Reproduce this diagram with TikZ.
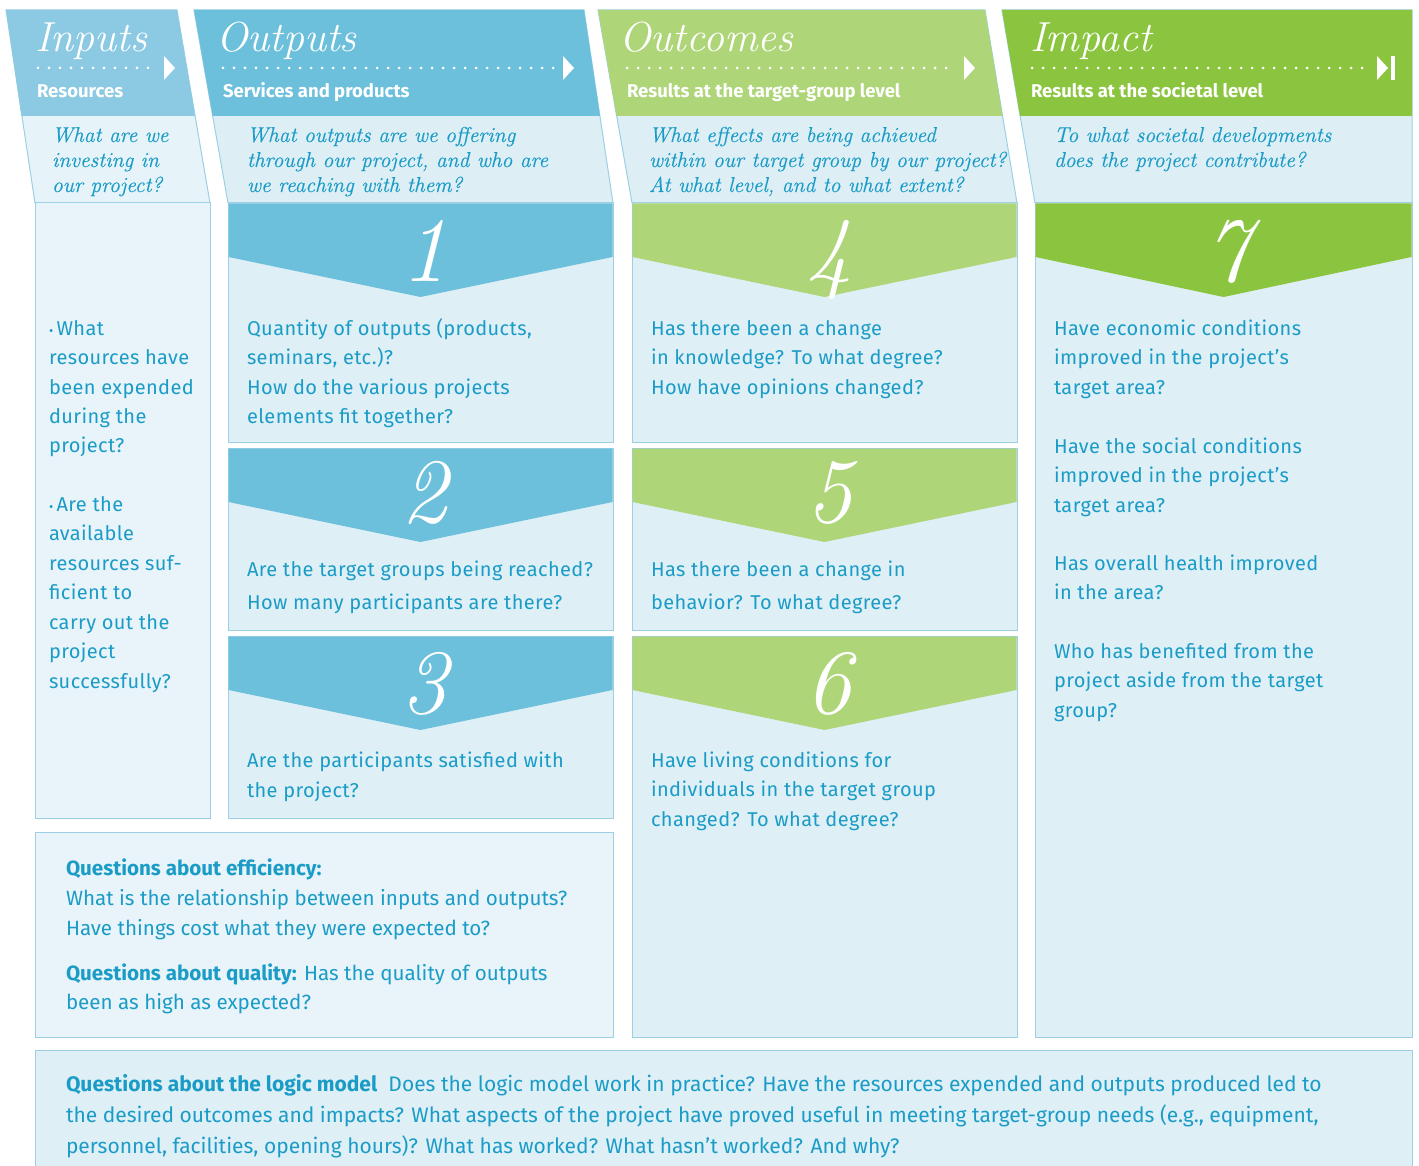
\documentclass[tikz,border=0pt]{standalone}
\usepackage{fontspec}
\newfontfamily\bodyfont[LetterSpace=2]{Fira Sans}
\newfontfamily\plainfont{Fira Sans}
\newfontfamily\serifq[FakeBold=0.4]{Latin Modern Roman}
\definecolor{tblue}{HTML}{1A9CC7}
\definecolor{hin}{HTML}{8BCAE2}
\definecolor{hout}{HTML}{6DC0DC}
\definecolor{hoc}{HTML}{AED578}
\definecolor{him}{HTML}{8BC53F}
\definecolor{qlight}{HTML}{E6F3F9}
\definecolor{qfill}{HTML}{DDEEF5}
\definecolor{bodyc}{HTML}{DFEFF6}
\definecolor{bodyl}{HTML}{E8F4F9}
\definecolor{bordc}{HTML}{9DD0E4}
\newcommand\ptxt[2]{\parbox[t]{1400pt}{#1\raggedright #2}}
\newcommand\bfnt{\bodyfont\fontsize{20}{29.5}\selectfont}
\newcommand\qfnt{\serifq\fontsize{21.5}{25}\selectfont\itshape}
\begin{document}
\begin{tikzpicture}[x=1pt,y=-1pt,
  every node/.style={inner sep=0pt, outer sep=0pt},
  ttl/.style={anchor=base west, text=white, font=\fontsize{42}{42}\selectfont\itshape},
  subt/.style={anchor=base west, text=white, font=\plainfont\bfseries\fontsize{18.5}{20}\selectfont},
  txt/.style={anchor=base west, text=tblue},
  num/.style={anchor=base, text=white, font=\fontsize{92}{92}\selectfont\itshape},
  bx/.style={fill=bodyc, draw=bordc, line width=1pt},
  dots/.style={white, line width=3pt, line cap=round, dash pattern=on 0pt off 11pt},
  qa/.style={draw=bordc, line width=1pt}
]
\useasboundingbox (0,0) rectangle (1419,1166);
\fill[white] (0,0) rectangle (1419,1166);

% ---------- header parallelograms ----------
% Inputs
\filldraw[qa, fill=qlight] (6,10) -- (177,10) -- (210,203) -- (35,203) -- cycle;
\fill[hin] (6,10) -- (177,10) -- (195,116) -- (21.5,116) -- cycle;
% Outputs
\filldraw[qa, fill=qfill] (194,10) -- (584,10) -- (613,203) -- (228,203) -- cycle;
\fill[hout] (194,10) -- (584,10) -- (600,116) -- (212.7,116) -- cycle;
% Outcomes
\filldraw[qa, fill=qfill] (598,10) -- (985,10) -- (1017,203) -- (632,203) -- cycle;
\fill[hoc] (598,10) -- (985,10) -- (1002.6,116) -- (616.5,116) -- cycle;
% Impact
\filldraw[qa, fill=qfill] (1002,10) -- (1412,10) -- (1412,203) -- (1035,203) -- cycle;
\fill[him] (1002,10) -- (1412,10) -- (1412,116) -- (1020,116) -- cycle;

% titles
\node[ttl] (tin) at (35,52) {Inputs};
\node[ttl] (tout) at (216,52) {Outputs};
\node[ttl] (toc) at (619,52) {Outcomes};
\node[ttl] (tim) at (1030,52) {Impact};
% dotted arrows
\draw[dots] (38,68) -- (158,68);
\fill[white] (164,56) -- (175,68) -- (164,80) -- cycle;
\draw[dots] (223,68) -- (557,68);
\fill[white] (563,56) -- (574,68) -- (563,80) -- cycle;
\draw[dots] (627,68) -- (957,68);
\fill[white] (964,56) -- (975,68) -- (964,80) -- cycle;
\draw[dots] (1032,68) -- (1371,68);
\fill[white] (1377,56) -- (1388,68) -- (1377,80) -- cycle;
\fill[white] (1391,56) rectangle (1395,80);
% subtitles
\node[subt] (sin) at (37,98) {Resources};
\node[subt] (sout) at (223,98) {Services and products};
\node[subt] (soc) at (627,98) {Results at the target-group level};
\node[subt] (sim) at (1031,98) {Results at the societal level};

% questions
\node[txt] (qin) at (52,142) {\ptxt{\qfnt}{What are we\\investing in\\our project?}};
\node[txt] (qout) at (247,142) {\ptxt{\qfnt}{What outputs are we offering\\through our project, and who are\\we reaching with them?}};
\node[txt] (qoc) at (649,142) {\ptxt{\qfnt}{What effects are being achieved\\within our target group by our project?\\At what level, and to what extent?}};
\node[txt] (qim) at (1054,142) {\ptxt{\qfnt}{To what societal developments\\does the project contribute?}};

% ---------- body boxes ----------
\filldraw[bx, fill=bodyl] (35,203) rectangle (210,818);
\foreach \t/\b/\c in {203/442/hout, 448/630/hout, 636/818/hout}{
  \filldraw[bx] (228,\t) rectangle (613,\b);
  \fill[\c] (228.5,\t+0.5) -- (612.5,\t+0.5) -- (612.5,\t+54) -- (420.5,\t+94) -- (228.5,\t+54) -- cycle;
}
\foreach \t/\b/\c in {203/442/hoc, 448/630/hoc, 636/1037/hoc}{
  \filldraw[bx] (632,\t) rectangle (1017,\b);
  \fill[\c] (632.5,\t+0.5) -- (1016.5,\t+0.5) -- (1016.5,\t+54) -- (824.5,\t+94) -- (632.5,\t+54) -- cycle;
}
\filldraw[bx] (1035,203) rectangle (1412,1037);
\fill[him] (1035.5,203.5) -- (1411.5,203.5) -- (1411.5,257) -- (1223.5,297) -- (1035.5,257) -- cycle;

% numbers
\node[num] (n1) at (424,282) {1};
\node[num] (n2) at (424,522) {2};
\node[num] (n3) at (424,713) {3};
\node[num] (n4) at (829,282) {4};
\node[num] (n5) at (829,522) {5};
\node[num] (n6) at (828,713) {6};
\node[num] (n7) at (1227,282) {7};

% body texts
\node[txt] (bin1) at (49,335) {\ptxt{\bfnt}{{\fontsize{13}{13}\selectfont\textbullet}\,What\\resources have\\been expended\\during the\\project?}};
\node[txt] (bin2) at (49,511) {\ptxt{\bfnt}{{\fontsize{13}{13}\selectfont\textbullet}\,Are the\\available\\resources suf-\\ficient to\\carry out the\\project\\successfully?}};
\node[txt] (b1) at (247,335) {\ptxt{\bfnt}{Quantity of outputs (products,\\seminars, etc.)?\\How do the various projects\\elements fit together?}};
\node[txt] (b2) at (247,576) {\ptxt{\bodyfont\fontsize{20}{33.5}\selectfont}{Are the target groups being reached?\\How many participants are there?}};
\node[txt] (b3) at (247,767) {\ptxt{\bodyfont\fontsize{20}{30}\selectfont}{Are the participants satisfied with\\the project?}};
\node[txt] (b4) at (651,335) {\ptxt{\bfnt}{Has there been a change\\in knowledge? To what degree?\\How have opinions changed?}};
\node[txt] (b5) at (651,576) {\ptxt{\bodyfont\fontsize{20}{33.5}\selectfont}{Has there been a change in\\behavior? To what degree?}};
\node[txt] (b6) at (651,767) {\ptxt{\bfnt}{Have living conditions for\\individuals in the target group\\changed? To what degree?}};
\node[txt] (b7a) at (1054,335) {\ptxt{\bfnt}{Have economic conditions\\improved in the project’s\\target area?}};
\node[txt] (b7b) at (1054,453) {\ptxt{\bfnt}{Have the social conditions\\improved in the project’s\\target area?}};
\node[txt] (b7c) at (1054,570) {\ptxt{\bfnt}{Has overall health improved\\in the area?}};
\node[txt] (b7d) at (1054,658) {\ptxt{\bfnt}{Who has benefited from the\\project aside from the target\\group?}};

% efficiency box
\filldraw[bx, fill=bodyl] (35,832) rectangle (613,1037);
\node[txt] (eff) at (66,875) {\ptxt{\plainfont\fontsize{20.6}{30}\selectfont}{\textbf{Questions about efficiency:}\\What is the relationship between inputs and outputs?\\Have things cost what they were expected to?}};
\node[txt] (qual) at (66,980) {\ptxt{\plainfont\fontsize{20.6}{29}\selectfont}{\textbf{Questions about quality:} Has the quality of outputs\\been as high as expected?}};

% logic model box
\filldraw[bx] (35,1050) rectangle (1412,1180);
\node[txt] (logic) at (66,1091) {\ptxt{\plainfont\fontsize{21}{31}\selectfont}{\textbf{Questions about the logic model}\ \ Does the logic model work in practice? Have the resources expended and outputs produced led to\\the desired outcomes and impacts? What aspects of the project have proved useful in meeting target-group needs (e.g., equipment,\\personnel, facilities, opening hours)? What has worked? What hasn’t worked? And why?}};
\end{tikzpicture}
\end{document}
